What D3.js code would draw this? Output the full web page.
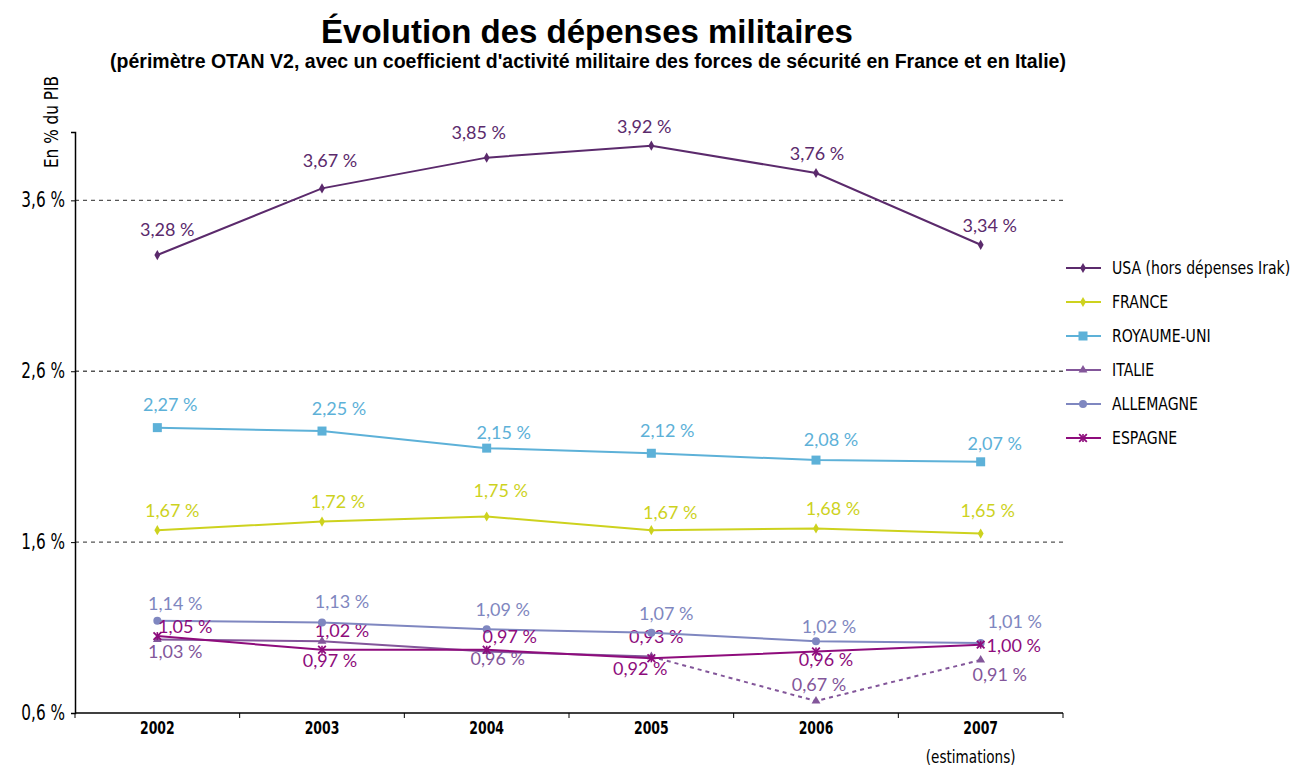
<!DOCTYPE html>
<html>
<head>
<meta charset="utf-8">
<script src="https://cdn.jsdelivr.net/npm/d3@7"></script>
<style>
  body { margin: 0; background: #fff; }
  .cond { font-family: "DejaVu Sans", sans-serif; }
  .lbl { font-family: Lato, "Open Sans", sans-serif; font-size: 18px; }
</style>
</head>
<body>
<div id="chart"></div>
<script>
const years = ["2002", "2003", "2004", "2005", "2006", "2007"];
const yearNotes = ["", "", "", "", "", "(estimations)"];
const yTicks = [0.6, 1.6, 2.6, 3.6];

const usa        = [3.28, 3.67, 3.85, 3.92, 3.76, 3.34];
const france     = [1.67, 1.72, 1.75, 1.67, 1.68, 1.65];
const royaumeUni = [2.27, 2.25, 2.15, 2.12, 2.08, 2.07];
const italie     = [1.03, 1.02, 0.96, 0.93, 0.67, 0.91];
const allemagne  = [1.14, 1.13, 1.09, 1.07, 1.02, 1.01];
const espagne    = [1.05, 0.97, 0.97, 0.92, 0.96, 1.00];

const seriesNames = ["USA (hors dépenses Irak)", "FRANCE", "ROYAUME-UNI", "ITALIE", "ALLEMAGNE", "ESPAGNE"];
const seriesValues = [usa, france, royaumeUni, italie, allemagne, espagne];

// styling / layout
const colors = ["#5b2a6c", "#cdd21e", "#5db1d8", "#83569a", "#7f87c0", "#8e0c7c"];
const markers = ["diamond", "diamond", "square", "triangle", "circle", "star"];
// label offsets (dx, dy) from the point
const labelOffsets = [
  [[10,-26],[8,-28],[-8,-25],[-7,-19],[1,-19],[9,-19]],
  [[15,-20],[16,-20],[14,-26],[19,-18],[17,-20],[7,-23]],
  [[13,-23],[17,-23],[17,-16],[16,-23],[15,-21],[14,-18]],
  [[18,12],[20,-11],[11,7],[5,-20],[3,-17],[19,14]],
  [[18,-17],[20,-21],[16,-20],[15,-19],[13,-15],[34,-21]],
  [[28,-10],[8,11],[23,-13],[-11,10],[10,8],[33,1]]
];
// a few labels are printed in another series' colour in the original
const labelColorOverride = { "3-1": 5, "3-3": 5 };

const W = 1309, H = 774;
const svg = d3.select("#chart").append("svg").attr("width", W).attr("height", H);

const x = d3.scaleBand().domain(years).range([75, 1063]);
const y = d3.scaleLinear().domain([0.6, 4.0]).range([713, 132]);
const cx = d => x(d) + x.bandwidth() / 2;
const fmt = v => d3.format(".2f")(v).replace(".", ",") + " %";

// title
svg.append("text").attr("x", 587).attr("y", 43).attr("text-anchor", "middle")
  .style("font-family", "Liberation Sans, Arial, sans-serif").style("font-weight", "bold").style("font-size", "33px")
  .text("Évolution des dépenses militaires");
svg.append("text").attr("x", 588).attr("y", 68).attr("text-anchor", "middle")
  .style("font-family", "Liberation Sans, Arial, sans-serif").style("font-weight", "bold").style("font-size", "19.5px")
  .text("(périmètre OTAN V2, avec un coefficient d'activité militaire des forces de sécurité en France et en Italie)");

// y label
svg.append("text").attr("class", "cond")
  .attr("transform", "translate(58,122) rotate(-90) scale(0.85,1.1)").attr("text-anchor", "middle")
  .style("font-size", "18px").text("En % du PIB");

// gridlines
svg.append("g").selectAll("line").data(yTicks.slice(1)).join("line")
  .attr("x1", 75).attr("x2", 1063)
  .attr("y1", d => y(d)).attr("y2", d => y(d))
  .attr("stroke", "#555").attr("stroke-width", 1.3).attr("stroke-dasharray", "4,4");

// y axis
const yAxis = svg.append("g").attr("transform", "translate(75,0)")
  .call(d3.axisLeft(y).tickValues(yTicks).tickSize(4).tickFormat(d => d3.format(".1f")(d).replace(".", ",") + " %"));
yAxis.select(".domain").attr("stroke", "#000").attr("stroke-width", 1.5);
yAxis.selectAll(".tick text").attr("class", "cond").attr("x", null)
  .attr("transform", "translate(-10,0) scale(0.85,1.15)")
  .style("font-size", "18px").attr("fill", "#000");

// x axis
const xa = svg.append("g");
xa.append("line").attr("x1", 75).attr("x2", 1063).attr("y1", y(0.6)).attr("y2", y(0.6))
  .attr("stroke", "#000").attr("stroke-width", 1.5);
xa.selectAll(".tk").data(years.concat(["end"])).join("line").attr("class", "tk")
  .attr("x1", (d, i) => x.range()[0] + i * x.step()).attr("x2", (d, i) => x.range()[0] + i * x.step())
  .attr("y1", y(0.6)).attr("y2", y(0.6) + 5).attr("stroke", "#000").attr("stroke-width", 1);
xa.selectAll(".yr").data(years).join("text").attr("class", "cond yr")
  .attr("transform", d => `translate(${cx(d)},734) scale(0.78,1.1)`).attr("text-anchor", "middle")
  .style("font-size", "16px").style("font-weight", "bold").text(d => d);
xa.selectAll(".nt").data(years).join("text").attr("class", "cond nt")
  .attr("transform", d => `translate(${cx(d) - 10},763) scale(0.85,1.1)`).attr("text-anchor", "middle")
  .style("font-size", "16px").text((d, i) => yearNotes[i]);

// marker drawing
function drawMarker(g, type, color) {
  if (type === "circle") g.append("circle").attr("r", 4).attr("fill", color);
  else if (type === "square") g.append("rect").attr("x", -4.5).attr("y", -4.5).attr("width", 9).attr("height", 9).attr("fill", color);
  else if (type === "diamond") g.append("path").attr("d", d3.symbol(d3.symbolDiamond, 30)()).attr("fill", color);
  else if (type === "triangle") g.append("path").attr("d", d3.symbol(d3.symbolTriangle, 34)()).attr("fill", color);
  else if (type === "star") g.append("path").attr("d", d3.symbol(d3.symbolTimes, 40)()).attr("stroke", color).attr("stroke-width", 1.8).attr("fill", "none")
    .clone().attr("d", "M0,-4V4").attr("stroke-width", 1.6);
}

const line = d3.line().x(d => cx(d.year)).y(d => y(d.v));

seriesValues.forEach((vals, s) => {
  const pts = vals.map((v, i) => ({ year: years[i], v: v }));
  const g = svg.append("g");
  if (seriesNames[s] === "ITALIE") {
    g.append("path").attr("d", line(pts.slice(0, 4))).attr("fill", "none").attr("stroke", colors[s]).attr("stroke-width", 2);
    g.append("path").attr("d", line(pts.slice(3))).attr("fill", "none").attr("stroke", colors[s]).attr("stroke-width", 2).attr("stroke-dasharray", "4,4");
  } else {
    g.append("path").attr("d", line(pts)).attr("fill", "none").attr("stroke", colors[s]).attr("stroke-width", 2);
  }
  pts.forEach(p => {
    const m = g.append("g").attr("transform", `translate(${cx(p.year)},${y(p.v)})`);
    drawMarker(m, markers[s], colors[s]);
  });
  g.selectAll("text").data(pts).join("text").attr("class", "lbl")
    .attr("x", (d, i) => cx(d.year) + labelOffsets[s][i][0])
    .attr("y", (d, i) => y(d.v) + labelOffsets[s][i][1])
    .attr("dy", "0.36em").attr("text-anchor", "middle")
    .attr("fill", (d, i) => colors[labelColorOverride[s + "-" + i] ?? s])
    .text(d => fmt(d.v));
});

// legend
const lg = svg.append("g").attr("transform", "translate(1066,268)");
seriesNames.forEach((name, i) => {
  const row = lg.append("g").attr("transform", `translate(0,${i * 34})`);
  row.append("line").attr("x1", 0).attr("x2", 35).attr("stroke", colors[i]).attr("stroke-width", 2);
  drawMarker(row.append("g").attr("transform", "translate(17,0)"), markers[i], colors[i]);
  row.append("text").attr("class", "cond").attr("transform", "translate(46,0) scale(0.88,1.1)").attr("dy", "0.36em")
    .style("font-size", "16px").text(name);
});
</script>
</body>
</html>
